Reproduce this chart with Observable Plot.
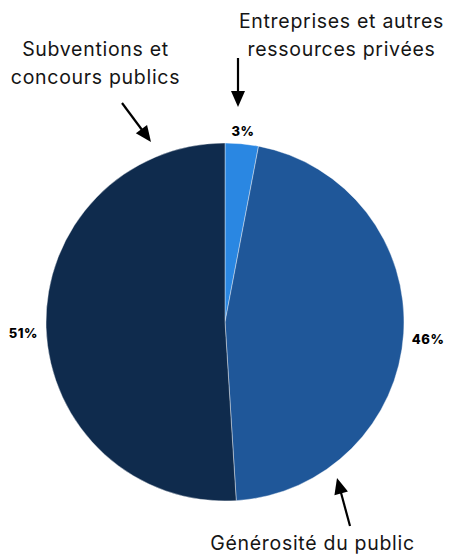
<!DOCTYPE html>
<html><head><meta charset="utf-8">
<script src="https://cdn.jsdelivr.net/npm/d3@7"></script>
<script src="https://cdn.jsdelivr.net/npm/@observablehq/plot@0.6"></script>
<style>body{margin:0;background:#fff}</style>
</head><body><div id="chart"></div>
<script>
const categories = ["Entreprises et autres ressources privées", "Générosité du public", "Subventions et concours publics"];
const shares = [3, 46, 51];
const colors = ["#2a87e2", "#1f5799", "#0f2b4d"];
const labelLines = [["Entreprises et autres", "ressources privées"], ["Générosité du public"], ["Subventions et", "concours publics"]];
const annoX = [341, 312, 95];
const annoY = [21, 543, 49];
const arrows = [
  {x1: 238, y1: 58, x2: 238, y2: 107},
  {x1: 350, y1: 526, x2: 337, y2: 478},
  {x1: 122, y1: 103, x2: 151, y2: 142}
];

const W = 450, H = 555, CX = 225, CY = 322, R = 179;
const font = "Inter, sans-serif";
const color = Plot.scale({color: {type: "ordinal", domain: categories, range: colors}});
const data = categories.map((c, i) => ({category: c, share: shares[i]}));
const arcs = d3.pie().sort(null).value(d => d.share)(data);

const annoText = [];
labelLines.forEach((lines, i) => lines.forEach((t, j) => annoText.push({text: t, x: annoX[i], y: annoY[i] + j * 28.5})));

const pieMark = (index, scales) => {
  const g = d3.create("svg:g").attr("transform", `translate(${scales.x(CX)},${scales.y(CY)})`);
  const arc = d3.arc().innerRadius(0).outerRadius(R);
  g.selectAll("path").data(arcs).join("path")
    .attr("d", arc)
    .attr("fill", d => color.apply(d.data.category))
    .attr("stroke", "#fff").attr("stroke-width", 0.4);
  g.selectAll("text").data(arcs).join("text")
    .each(function(d) {
      const a = (d.startAngle + d.endAngle) / 2;
      const s = Math.sin(a);
      const side = Math.abs(s) >= 0.3;
      const rr = R * (side ? 1.045 : 1.07);
      d3.select(this)
        .attr("x", rr * s).attr("y", -rr * Math.cos(a))
        .attr("text-anchor", s > 0.3 ? "start" : s < -0.3 ? "end" : "middle")
        .attr("dy", side ? "0.8em" : "0.35em");
    })
    .attr("font-family", font).attr("font-weight", 800).attr("font-size", 13)
    .attr("letter-spacing", 0.6)
    .attr("fill", "#000")
    .text(d => d.data.share + "%");
  return g.node();
};

const arrowHeads = (index, scales) => {
  const g = d3.create("svg:g");
  const L = 16, Wd = 14;
  arrows.forEach(a => {
    const x1 = scales.x(a.x1), y1 = scales.y(a.y1), x2 = scales.x(a.x2), y2 = scales.y(a.y2);
    const len = Math.hypot(x2 - x1, y2 - y1), ux = (x2 - x1) / len, uy = (y2 - y1) / len;
    const bx = x2 - ux * L, by = y2 - uy * L;
    g.append("line").attr("x1", x1).attr("y1", y1).attr("x2", bx + ux * 2).attr("y2", by + uy * 2)
      .attr("stroke", "#000").attr("stroke-width", 2.2);
    g.append("path")
      .attr("d", `M${x2},${y2}L${bx - uy * Wd / 2},${by + ux * Wd / 2}L${bx + uy * Wd / 2},${by - ux * Wd / 2}Z`)
      .attr("fill", "#000");
  });
  return g.node();
};

const chart = Plot.plot({
  width: W, height: H, margin: 0,
  x: {domain: [0, W], range: [0, W], axis: null},
  y: {domain: [0, H], range: [0, H], axis: null},
  style: {fontFamily: font, background: "#fff"},
  marks: [
    pieMark,
    arrowHeads,
    Plot.text(annoText, {x: "x", y: "y", text: "text", fontSize: 19.5, fill: "#151515", lineAnchor: "middle", style: "letter-spacing:0.7px"})
  ]
});
chart.querySelectorAll("text").forEach(t => { if (!t.getAttribute("letter-spacing") && t.closest("g[aria-label='text']")) t.setAttribute("letter-spacing", "0.7"); });
document.getElementById("chart").append(chart);
</script></body></html>
